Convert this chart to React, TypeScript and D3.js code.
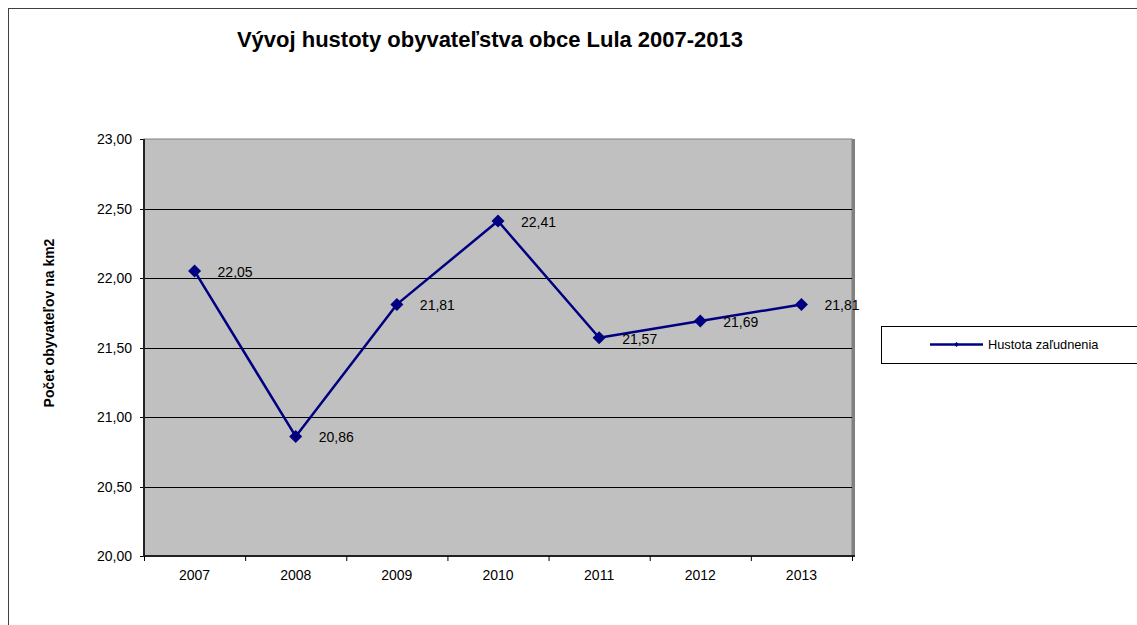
import React from "react";
import * as d3 from "d3";

const years = ["2007", "2008", "2009", "2010", "2011", "2012", "2013"];
const density = [22.05, 20.86, 21.81, 22.41, 21.57, 21.69, 21.81];
const yTicks = [20.0, 20.5, 21.0, 21.5, 22.0, 22.5, 23.0];
const title = "Vývoj hustoty obyvateľstva obce Lula 2007-2013";
const yTitle = "Počet obyvateľov na km2";
const seriesName = "Hustota zaľudnenia";

const W = 1137;
const H = 625;
const plot = { left: 144, right: 852, top: 139, bottom: 556 };
const font = "Arial, 'Liberation Sans', sans-serif";
const navy = "#000080";

const fmt = (v: number) => v.toFixed(2).replace(".", ",");

export default function App() {
  const x = d3.scaleBand<string>().domain(years).range([plot.left, plot.right]).padding(0);
  const y = d3.scaleLinear().domain([20, 23]).range([plot.bottom, plot.top]);
  const cx = (yr: string) => (x(yr) as number) + x.bandwidth() / 2;
  const pts = years.map((yr, i) => ({ yr, v: density[i] }));
  const line = d3
    .line<{ yr: string; v: number }>()
    .x((d) => cx(d.yr))
    .y((d) => y(d.v));
  const diamond = (px: number, py: number, r: number) =>
    `M${px},${py - r}L${px + r},${py}L${px},${py + r}L${px - r},${py}Z`;
  const boundaries = [...years.map((yr) => x(yr) as number), plot.right];

  return (
    <svg
      width={W}
      height={H}
      style={{ position: "absolute", left: 0, top: 0, display: "block" }}
      fontFamily={font}
    >
      <rect x={0} y={0} width={W} height={H} fill="#fff" />
      <rect x={8.5} y={8.5} width={1300} height={800} fill="#fff" stroke="#404040" strokeWidth={1} />
      <text x={490} y={47} textAnchor="middle" fontSize={22} fontWeight="bold" fill="#000">
        {title}
      </text>
      {/* plot area */}
      <rect
        x={plot.left}
        y={plot.top}
        width={plot.right - plot.left}
        height={plot.bottom - plot.top}
        fill="#C0C0C0"
        stroke="#808080"
        strokeWidth={1}
      />
      <line x1={plot.right + 1.5} x2={plot.right + 1.5} y1={plot.top} y2={plot.bottom} stroke="#808080" strokeWidth={3} />
      {yTicks.map((t) => (
        <g key={t}>
          {t > 20 && t < 23 && (
            <line x1={plot.left} x2={plot.right} y1={Math.round(y(t)) + 0.5} y2={Math.round(y(t)) + 0.5} stroke="#000" strokeWidth={1} />
          )}
          <line x1={plot.left - 4} x2={plot.left} y1={Math.round(y(t)) + 0.5} y2={Math.round(y(t)) + 0.5} stroke="#000" strokeWidth={1} />
          <text x={132} y={y(t) + 5} textAnchor="end" fontSize={14} fill="#000">
            {fmt(t)}
          </text>
        </g>
      ))}
      {/* axes */}
      <line x1={plot.left} x2={plot.left} y1={plot.top} y2={plot.bottom + 1} stroke="#222" strokeWidth={2} />
      <line x1={plot.left - 1} x2={plot.right + 3} y1={plot.bottom} y2={plot.bottom} stroke="#222" strokeWidth={2} />
      {boundaries.map((b, i) => (
        <line key={i} x1={b + 0.5} x2={b + 0.5} y1={plot.bottom} y2={plot.bottom + 5} stroke="#000" strokeWidth={1} />
      ))}
      {years.map((yr) => (
        <text key={yr} x={cx(yr)} y={580} textAnchor="middle" fontSize={14} fill="#000">
          {yr}
        </text>
      ))}
      <text
        transform={`translate(54,${323}) rotate(-90)`}
        textAnchor="middle"
        fontSize={14}
        fontWeight="bold"
        fill="#000"
      >
        {yTitle}
      </text>
      {/* series */}
      <path d={line(pts) || ""} fill="none" stroke={navy} strokeWidth={2.5} strokeLinejoin="round" />
      {pts.map((d) => (
        <path key={d.yr} d={diamond(cx(d.yr), y(d.v), 6.5)} fill={navy} />
      ))}
      {pts.map((d) => (
        <text key={"l" + d.yr} x={cx(d.yr) + 23} y={y(d.v) + 6} fontSize={14} fill="#000">
          {fmt(d.v)}
        </text>
      ))}
      {/* legend */}
      <rect x={881.5} y={326.5} width={400} height={37} fill="#fff" stroke="#000" strokeWidth={1} />
      <line x1={930} x2={983} y1={344.5} y2={344.5} stroke={navy} strokeWidth={2.5} />
      <path d={diamond(956.5, 344.5, 2.5)} fill={navy} />
      <text x={988} y={349} fontSize={12.8} fill="#000">
        {seriesName}
      </text>
    </svg>
  );
}
